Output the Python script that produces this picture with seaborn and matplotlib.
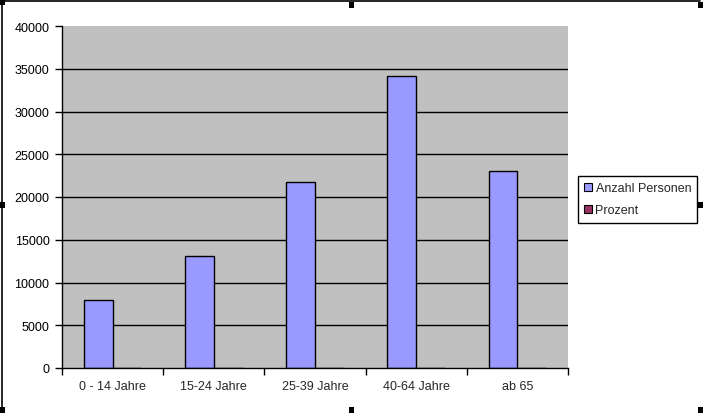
import matplotlib
matplotlib.use("Agg")
import matplotlib.pyplot as plt
import seaborn as sns
import pandas as pd
from matplotlib.patches import Patch, Rectangle
from matplotlib.lines import Line2D

# Daten
kategorien = ['0 - 14 Jahre', '15-24 Jahre', '25-39 Jahre', '40-64 Jahre', 'ab 65']
anzahl_personen = [7950, 13100, 21750, 34150, 23050]
prozent = [8.0, 13.1, 21.8, 34.2, 23.0]
serien = ['Anzahl Personen', 'Prozent']
farben = ['#9999FF', '#993366']

df = pd.DataFrame({
    'Kategorie': kategorien * 2,
    'Wert': anzahl_personen + prozent,
    'Serie': [serien[0]] * 5 + [serien[1]] * 5,
})

sns.set_style("white")
plt.rcParams['font.family'] = ['Liberation Sans', 'DejaVu Sans']

fig = plt.figure(figsize=(7.03, 4.14), dpi=100)
W, H = 703, 414
ax = fig.add_axes([62 / W, 1 - 369 / H, (568 - 62) / W, (369 - 27) / H])
ax.set_facecolor('#C0C0C0')

sns.barplot(data=df, x='Kategorie', y='Wert', hue='Serie', palette=farben,
            saturation=1, width=0.571, edgecolor='black', linewidth=1,
            ax=ax, legend=False, zorder=3)

ax.set_ylim(0, 40000)
ax.set_xlim(-0.5, len(kategorien) - 0.5)
ax.set_yticks(range(0, 40001, 5000))
ax.set_xlabel('')
ax.set_ylabel('')

# Gitterlinien
for y in range(5000, 40000, 5000):
    ax.axhline(y, color='black', linewidth=1, zorder=1)

for s in ['top', 'right']:
    ax.spines[s].set_visible(False)
for s in ['left', 'bottom']:
    ax.spines[s].set_color('black')
    ax.spines[s].set_linewidth(1)
    ax.spines[s].set_zorder(4)

ax.tick_params(axis='y', length=5, width=1, direction='out', pad=4,
               labelsize=9, colors='black', left=True)
ax.set_xticks([i - 0.5 for i in range(len(kategorien) + 1)], minor=True)
ax.tick_params(axis='x', which='major', length=0, pad=9, labelsize=9)
ax.tick_params(axis='x', which='minor', length=5, width=1, direction='out',
               bottom=True, color='black')

# Legende
handles = [Patch(facecolor=farben[i], edgecolor='black', linewidth=0.8,
                 label=serien[i]) for i in range(2)]
leg = fig.legend(handles=handles, loc='upper left',
                 bbox_to_anchor=(578 / W, 1 - 177 / H), fontsize=9,
                 handlelength=0.6, handleheight=0.6, handletextpad=0.3,
                 borderpad=0.5, labelspacing=0.8, borderaxespad=0,
                 fancybox=False, framealpha=1, edgecolor='black')
leg.get_frame().set_linewidth(1)

# Rahmen des Diagrammbereichs mit Markierungen
fig.add_artist(Line2D([2 / W, 700 / W], [1 - 2 / H, 1 - 2 / H], color='black',
                      linewidth=1.2, transform=fig.transFigure))
fig.add_artist(Line2D([2 / W, 2 / W], [1 - 2 / H, 3 / H], color='black',
                      linewidth=1.2, transform=fig.transFigure))
for (px, py) in [(0, 0), (349, 3), (698, 3), (0, 203), (698, 203),
                 (0, 408), (349, 408), (698, 408)]:
    fig.add_artist(Rectangle((px / W, 1 - (py + 6) / H), 5 / W, 6 / H,
                             facecolor='black', edgecolor='none',
                             transform=fig.transFigure))

fig.savefig('out.png', dpi=100)
